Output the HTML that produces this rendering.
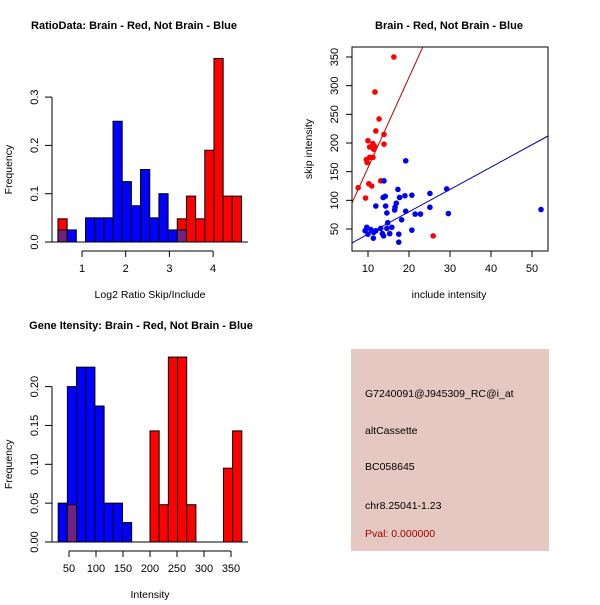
<!DOCTYPE html>
<html><head><meta charset="utf-8"><style>
body{margin:0;background:#fff}
svg text{font-family:"Liberation Sans",sans-serif;}
</style></head><body>
<svg id="s" width="600" height="600" xmlns="http://www.w3.org/2000/svg">
<rect width="600" height="600" fill="#fff"/>
<g id="p1"></g>
<g id="p2"></g>
<g id="p3"></g>
<g>
<rect x="351" y="349" width="198" height="202" fill="#e5c8c1"/>
<text x="365" y="397" font-size="10.5" fill="#000">G7240091@J945309_RC@i_at</text>
<text x="365" y="434" font-size="10.5" fill="#000">altCassette</text>
<text x="365" y="470" font-size="10.5" fill="#000">BC058645</text>
<text x="365" y="509" font-size="10.5" fill="#000">chr8.25041-1.23</text>
<text x="365" y="537" font-size="10.5" fill="#a00000">Pval: 0.000000</text>
</g>
</svg>
<script>
// Histogram 1 data
const h1Start = 0.45, h1Width = 0.21;
const h1Red  = [0.048,0,0,0,0,0,0,0,0,0,0,0,0,0.048,0.095,0.048,0.19,0.38,0.095,0.095];
const h1Blue = [0.025,0.025,0,0.05,0.05,0.05,0.25,0.125,0.075,0.15,0.05,0.1,0.025,0.025,0,0,0,0,0,0];
const h1XTicks = [1,2,3,4];
const h1YTicks = [0,0.1,0.2,0.3];
const h1YLabels = ["0.0","0.1","0.2","0.3"];
// Histogram 3 data
const h3Start = 30, h3Width = 17;
const h3Red  = [0,0.048,0,0,0,0,0,0,0,0,0.143,0.048,0.238,0.238,0.048,0,0,0,0.095,0.143];
const h3Blue = [0.05,0.2,0.225,0.225,0.175,0.05,0.05,0.025,0,0,0,0,0,0,0,0,0,0,0,0];
const h3XTicks = [50,100,150,200,250,300,350];
const h3YTicks = [0,0.05,0.1,0.15,0.2];
const h3YLabels = ["0.00","0.05","0.10","0.15","0.20"];
// Scatter data
const redX = [16.3,11.7,12.7,11.9,13.9,10,13.9,11.2,10.4,11.4,9.6,10.4,11.2,9.8,7.6,10.2,10.9,13.1,9.4,25.9,11.6];
const redY = [350,289,242,221,215,204,198,199,193,189,171,175,175,166,122,129,125,134,104,38,194];
const blueX = [19.2,13.9,17.3,29.2,25.1,13.7,14.2,17.7,19,20.7,11.9,14.3,16.9,16.6,16.5,25.1,19.2,14.6,21.5,22.8,29.6,52.2,18.2,14.8,15.8,14.6,9.7,9.3,10,11.4,11.9,13.1,13.5,15.3,11.3,17.5,17.5,20.7,10.7,13.8];
const blueY = [169,134,119,120,112,105,107,105,108,109,90,90,95,88,83,88,81,78,76,76,77,84,66,61,53,51,53,47,41,44,47,51,42,42,34,41,27,48,49,38];
const redFit = [-0.6, 15.75];
const blueFit = [2, 3.9];
const sXTicks = [10,20,30,40,50];
const sYTicks = [50,100,150,200,250,300,350];

const NS="http://www.w3.org/2000/svg";
function mk(parent,tag,attrs,text){const e=document.createElementNS(NS,tag);for(const k in attrs)e.setAttribute(k,attrs[k]);if(text!==undefined)e.textContent=text;parent.appendChild(e);return e;}

function hist(g,o){
  const sx=v=>o.x0+(v-o.v0)*o.kx, sy=v=>o.y0-v*o.ky;
  const n=o.red.length;
  for(let i=0;i<n;i++){
    const a=sx(o.start+i*o.width), b=sx(o.start+(i+1)*o.width);
    const r=o.red[i], bl=o.blue[i];
    if(r>0){const e=mk(g,'rect',{x:a,y:sy(r),width:b-a,height:sy(0)-sy(r),fill:'#ff0000',stroke:'#000','stroke-width':1});
      
      }
    if(bl>0){const e=mk(g,'rect',{x:a,y:sy(bl),width:b-a,height:sy(0)-sy(bl),fill:'#0000ff',stroke:'#000','stroke-width':1});
      
      }
    const m=Math.min(r,bl);
    if(m>0){const e=mk(g,'rect',{x:a,y:sy(m),width:b-a,height:sy(0)-sy(m),fill:'#73207f',stroke:'#000','stroke-width':1});
      
      }
  }
  mk(g,'line',{x1:50,x2:248,y1:sy(0),y2:sy(0),stroke:'#000'});
  const yt=o.yticks;
  mk(g,'line',{x1:52,x2:52,y1:sy(yt[0]),y2:sy(yt[yt.length-1]),stroke:'#000'});
  yt.forEach((t,i)=>{mk(g,'line',{x1:45,x2:52,y1:sy(t),y2:sy(t),stroke:'#000'});
    const e=mk(g,'text',{x:38,y:sy(t),'font-size':11,'text-anchor':'middle',transform:`rotate(-90 38 ${sy(t)})`},o.ylabels[i]);
    
    });
  const xt=o.xticks, ay=o.axisY;
  mk(g,'line',{x1:sx(xt[0]),x2:sx(xt[xt.length-1]),y1:ay,y2:ay,stroke:'#000'});
  xt.forEach(t=>{mk(g,'line',{x1:sx(t),x2:sx(t),y1:ay,y2:ay+6,stroke:'#000'});
    const e=mk(g,'text',{x:sx(t),y:ay+21,'font-size':11,'text-anchor':'middle'},String(t));
    
    });
  let e=mk(g,'text',{x:150,y:ay+47,'font-size':10.5,'text-anchor':'middle'},o.xlabel);
  
  
  const cy=(sy(yt[0])+sy(yt[yt.length-1]))/2;
  e=mk(g,'text',{x:12,y:cy,'font-size':10.5,'text-anchor':'middle',transform:`rotate(-90 12 ${cy})`},'Frequency');
  
  
  e=mk(g,'text',{x:o.tx,y:o.ty,'font-size':11,'font-weight':'bold','text-anchor':'middle'},o.title);
  
  
}

hist(document.getElementById('p1'),{x0:82,v0:1,kx:43.7,y0:242,ky:483,start:h1Start,width:h1Width,red:h1Red,blue:h1Blue,
  xticks:h1XTicks,yticks:h1YTicks,ylabels:h1YLabels,axisY:251,xlabel:'Log2 Ratio Skip/Include',tx:134,ty:29,
  title:'RatioData: Brain - Red, Not Brain - Blue'});
hist(document.getElementById('p3'),{x0:69,v0:50,kx:0.54,y0:542,ky:777,start:h3Start,width:h3Width,red:h3Red,blue:h3Blue,
  xticks:h3XTicks,yticks:h3YTicks,ylabels:h3YLabels,axisY:551,xlabel:'Intensity',tx:141,ty:329,
  title:'Gene Itensity: Brain - Red, Not Brain - Blue'});

(function(){
  const g=document.getElementById('p2');
  const L=352,R=548,T=47,B=251;
  const sx=v=>368+(v-10)*4.1, sy=v=>229-(v-50)*0.5733;
  const cp=mk(g,'clipPath',{id:'cp'});mk(cp,'rect',{x:L,y:T,width:R-L,height:B-T});
  const fl=(f,col,name)=>{const x1=(L-368)/4.1+10,x2=(R-368)/4.1+10;
    const e=mk(g,'line',{x1:sx(x1),y1:sy(f[0]+f[1]*x1),x2:sx(x2),y2:sy(f[0]+f[1]*x2),stroke:col,'stroke-width':1,'clip-path':'url(#cp)'});
    
    };
  fl(redFit,'#c00000','red-fit-line');
  fl(blueFit,'#0000b0','blue-fit-line');
  redX.forEach((x,i)=>{const e=mk(g,'circle',{cx:sx(x),cy:sy(redY[i]),r:2.8,fill:'#ff0000'});
    
    });
  blueX.forEach((x,i)=>{const e=mk(g,'circle',{cx:sx(x),cy:sy(blueY[i]),r:2.8,fill:'#0000ee'});
    
    });
  mk(g,'rect',{x:L,y:T,width:R-L,height:B-T,fill:'none',stroke:'#000'});
  sXTicks.forEach(t=>{mk(g,'line',{x1:sx(t),x2:sx(t),y1:B,y2:B+6,stroke:'#000'});
    const e=mk(g,'text',{x:sx(t),y:B+21,'font-size':11,'text-anchor':'middle'},String(t));
    
    });
  sYTicks.forEach(t=>{mk(g,'line',{x1:L-6,x2:L,y1:sy(t),y2:sy(t),stroke:'#000'});
    const e=mk(g,'text',{x:338,y:sy(t),'font-size':11,'text-anchor':'middle',transform:`rotate(-90 338 ${sy(t)})`},String(t));
    
    });
  let e=mk(g,'text',{x:449,y:298,'font-size':10.5,'text-anchor':'middle'},'include intensity');
  
  
  e=mk(g,'text',{x:312,y:149,'font-size':10.5,'text-anchor':'middle',transform:'rotate(-90 312 149)'},'skip intensity');
  
  
  e=mk(g,'text',{x:449,y:29,'font-size':11,'font-weight':'bold','text-anchor':'middle'},'Brain - Red, Not Brain - Blue');
  
  
})();
</script>
</body></html>
